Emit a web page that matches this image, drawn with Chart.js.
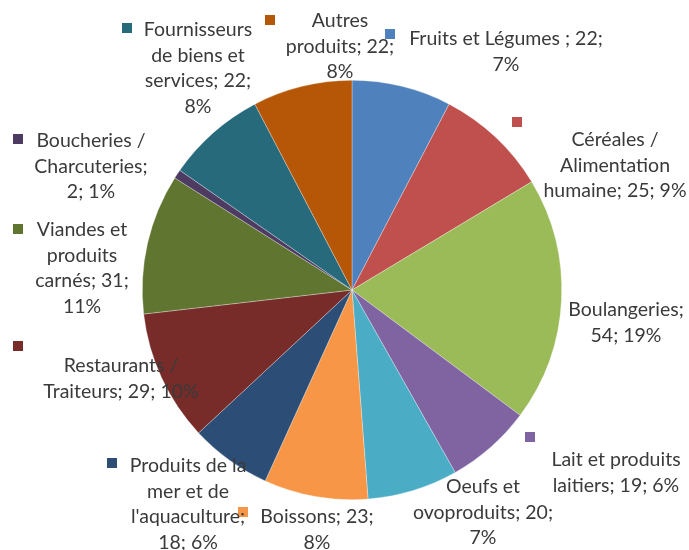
<!DOCTYPE html>
<html>
<head>
<meta charset="utf-8">
<script src="https://cdn.jsdelivr.net/npm/chart.js"></script>
<style>
  html, body { margin: 0; padding: 0; background: #fff; }
  #wrap { width: 689px; height: 550px; position: relative; }
</style>
</head>
<body>
<div id="wrap"><canvas id="pie-chart"></canvas></div>
<script>
    // données
    var categories = ['Fruits et Légumes ', 'Céréales / Alimentation humaine', 'Boulangeries', 'Lait et produits laitiers',
        'Oeufs et ovoproduits', 'Boissons', "Produits de la mer et de l'aquaculture", 'Restaurants / Traiteurs',
        'Viandes et produits carnés', 'Boucheries / Charcuteries', 'Fournisseurs de biens et services', 'Autres produits'];
    var values = [22, 25, 54, 19, 20, 23, 18, 29, 31, 2, 22, 22];
    var percents = [7, 9, 19, 6, 7, 8, 6, 10, 11, 1, 8, 8];
    var colors = ['#4F81BD', '#C0504D', '#9BBB59', '#8064A2', '#4BACC6', '#F79646',
        '#2C4D75', '#772C2A', '#5F7530', '#4D3B62', '#276A7C', '#B65708'];

    // étiquettes : lignes de texte, centre x, y de la première ligne, carré de légende
    var labelLines = [
        [categories[0] + '; ' + values[0] + ';', percents[0] + '%'],
        ['Céréales /', 'Alimentation', 'humaine; ' + values[1] + '; ' + percents[1] + '%'],
        ['Boulangeries;', values[2] + '; ' + percents[2] + '%'],
        ['Lait et produits', 'laitiers; ' + values[3] + '; ' + percents[3] + '%'],
        ['Oeufs et', 'ovoproduits; ' + values[4] + ';', percents[4] + '%'],
        ['Boissons; ' + values[5] + ';', percents[5] + '%'],
        ['Produits de la', 'mer et de', "l'aquaculture;", values[6] + '; ' + percents[6] + '%'],
        ['Restaurants /', 'Traiteurs; ' + values[7] + '; ' + percents[7] + '%'],
        ['Viandes et', 'produits', 'carnés; ' + values[8] + ';', percents[8] + '%'],
        ['Boucheries /', 'Charcuteries;', values[9] + '; ' + percents[9] + '%'],
        ['Fournisseurs', 'de biens et', 'services; ' + values[10] + ';', percents[10] + '%'],
        ['Autres', 'produits; ' + values[11] + ';', percents[11] + '%']
    ];
    var labelPos = [
        {x: 506, y: 39, sq: [390, 34]},
        {x: 615, y: 140, sq: [517, 122]},
        {x: 626, y: 310, sq: null},
        {x: 616, y: 460, sq: [530, 437]},
        {x: 483, y: 487, sq: null},
        {x: 317, y: 517, sq: [243, 512]},
        {x: 188, y: 466, sq: [112, 463]},
        {x: 121, y: 366, sq: [18, 346]},
        {x: 82, y: 230, sq: [18, 229]},
        {x: 91, y: 141, sq: [18, 139]},
        {x: 198, y: 30, sq: [127, 28]},
        {x: 340, y: 21, sq: [270, 20]}
    ];
    var lineH = 25.5;

    var labelPlugin = {
        id: 'pieLabels',
        afterDatasetsDraw: function(chart) {
            var c = chart.ctx;
            c.save();
            c.font = '19.5px Lato, "Open Sans", sans-serif';
            c.textAlign = 'center';
            c.textBaseline = 'middle';
            labelLines.forEach(function(lines, i) {
                var p = labelPos[i];
                c.fillStyle = '#3a3a3a';
                lines.forEach(function(t, k) {
                    c.fillText(t, p.x, p.y + k * lineH);
                });
                if (p.sq) {
                    c.fillStyle = colors[i];
                    c.fillRect(p.sq[0] - 5, p.sq[1] - 5, 10, 10);
                }
            });
            c.restore();
        }
    };

    var ctx = document.getElementById('pie-chart').getContext('2d');
    var myChart = new Chart(ctx, {
        type: 'pie',
        data: {
            labels: categories,
            datasets: [{
                data: values,
                backgroundColor: colors,
                borderColor: 'rgba(255,255,255,0.5)',
                borderWidth: 0.6
            }]
        },
        options: {
            responsive: true,
            maintainAspectRatio: false,
            animation: false,
            layout: { padding: { left: 142, right: 127, top: 80, bottom: 50 } },
            plugins: {
                legend: { display: false },
                tooltip: { enabled: false }
            }
        },
        plugins: [labelPlugin]
    });
</script>
</body>
</html>
